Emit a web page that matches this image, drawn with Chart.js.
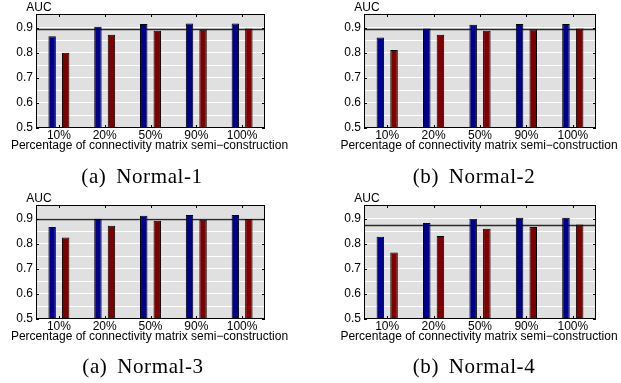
<!DOCTYPE html>
<html>
<head>
<meta charset="utf-8">
<script src="https://cdn.jsdelivr.net/npm/chart.js@4/dist/chart.umd.min.js"></script>
<style>
  body { margin: 0; background: #fff; width: 621px; height: 383px; position: relative; overflow: hidden; }
  .panel { position: absolute; width: 310px; height: 165px; }
  .cap { position: absolute; font-family: "Liberation Serif", "Times New Roman", serif; font-size: 21px;
         line-height: 21px; letter-spacing: 0.6px; word-spacing: 4px; white-space: nowrap;
         transform: translateX(-50%); color: #000; }
</style>
</head>
<body>
<div class="panel" style="left:0;top:0"><canvas id="n1" width="310" height="165"></canvas></div>
<div class="panel" style="left:310px;top:0"><canvas id="n2" width="310" height="165"></canvas></div>
<div class="panel" style="left:0;top:190px"><canvas id="n3" width="310" height="165"></canvas></div>
<div class="panel" style="left:310px;top:190px"><canvas id="n4" width="310" height="165"></canvas></div>
<div class="cap" style="left:142px;top:166px">(a) Normal-1</div>
<div class="cap" style="left:474px;top:166px">(b) Normal-2</div>
<div class="cap" style="left:143px;top:356px">(a) Normal-3</div>
<div class="cap" style="left:474px;top:356px">(b) Normal-4</div>
<script>
// x categories (share of the connectivity matrix that is semi-constructed)
const categories = ['10%', '20%', '50%', '90%', '100%'];
const yLabelTicks = [0.5, 0.6, 0.7, 0.8, 0.9];
const xTitle = 'Percentage of connectivity matrix semi\u2212construction';

// AUC values: blue bars, red bars, and the flat reference line
const blueN1 = [0.866, 0.904, 0.915, 0.917, 0.917];
const redN1  = [0.800, 0.872, 0.888, 0.892, 0.897];
const refN1  = 0.896;

const blueN2 = [0.861, 0.897, 0.912, 0.915, 0.915];
const redN2  = [0.811, 0.872, 0.888, 0.893, 0.897];
const refN2  = 0.897;

const blueN3 = [0.867, 0.900, 0.912, 0.915, 0.915];
const redN3  = [0.825, 0.872, 0.892, 0.896, 0.899];
const refN3  = 0.899;

const blueN4 = [0.828, 0.883, 0.900, 0.904, 0.904];
const redN4  = [0.765, 0.831, 0.860, 0.867, 0.877];
const refN4  = 0.877;

const FONT = "'Liberation Sans', Arial, Helvetica, sans-serif";

// gray plot background, reference line, box, inward ticks, "AUC" and the x title
// (x title drawn here because the scale title gets squeezed to the axis width)
const panelDecor = {
    id: 'panelDecor',
    beforeDraw(chart) {
        const { ctx, chartArea: a } = chart;
        ctx.save();
        ctx.fillStyle = '#e0e0e0';
        ctx.fillRect(a.left, a.top, a.right - a.left, a.bottom - a.top);
        ctx.restore();
    },
    beforeDatasetsDraw(chart, args, opts) {
        const { ctx, chartArea: a, scales } = chart;
        const y = Math.round(scales.y.getPixelForValue(opts.refValue)) + 0.5;
        ctx.save();
        ctx.strokeStyle = '#2a2a2a';
        ctx.lineWidth = 1.3;
        ctx.beginPath();
        ctx.moveTo(a.left, y);
        ctx.lineTo(a.right, y);
        ctx.stroke();
        ctx.restore();
    },
    afterDatasetsDraw(chart) {
        const { ctx, chartArea: a, scales } = chart;
        ctx.save();
        ctx.strokeStyle = '#000';
        ctx.lineWidth = 1;
        ctx.strokeRect(a.left + 0.5, a.top + 0.5, a.right - a.left - 1, a.bottom - a.top - 1);
        ctx.beginPath();
        categories.forEach((c, i) => {
            const x = Math.round(scales.x.getPixelForValue(i)) + 0.5;
            ctx.moveTo(x, a.top); ctx.lineTo(x, a.top + 3);
            ctx.moveTo(x, a.bottom); ctx.lineTo(x, a.bottom - 3);
        });
        yLabelTicks.forEach(v => {
            const y = Math.round(scales.y.getPixelForValue(v)) + 0.5;
            ctx.moveTo(a.left, y); ctx.lineTo(a.left + 3, y);
            ctx.moveTo(a.right, y); ctx.lineTo(a.right - 3, y);
        });
        ctx.stroke();
        ctx.fillStyle = '#000';
        ctx.font = '12px ' + FONT;
        ctx.textAlign = 'center';
        ctx.textBaseline = 'alphabetic';
        ctx.fillText('AUC', a.left + 3, a.top - 3);
        ctx.fillText(xTitle, (a.left + a.right) / 2 - 1, a.bottom + 21);
        ctx.restore();
    }
};

function drawPanel(id, blue, red, refValue, box) {
    const ctx = document.getElementById(id).getContext('2d');
    new Chart(ctx, {
        type: 'bar',
        data: {
            labels: categories,
            datasets: [{
                data: blue,
                backgroundColor: '#00008f',
                borderColor: '#000',
                borderWidth: 1
            }, {
                data: red,
                backgroundColor: '#800000',
                borderColor: '#000',
                borderWidth: 1
            }]
        },
        options: {
            responsive: false,
            animation: false,
            barPercentage: 0.55,
            categoryPercentage: 0.59,
            layout: { padding: { left: 0, right: box.right, top: box.top, bottom: 0 } },
            plugins: {
                legend: { display: false },
                tooltip: { enabled: false },
                panelDecor: { refValue: refValue }
            },
            scales: {
                x: {
                    grid: { display: false, drawTicks: false },
                    border: { display: false },
                    ticks: { color: '#000', font: { family: FONT, size: 12 }, padding: 0, maxRotation: 0 },
                    afterFit: s => { s.height = box.xHeight; }
                },
                y: {
                    min: 0.5,
                    max: 0.955,
                    grid: { color: '#ffffff', lineWidth: 1, drawTicks: false },
                    border: { display: false },
                    ticks: {
                        stepSize: 0.05,
                        autoSkip: false,
                        padding: 3,
                        color: '#000',
                        font: { family: FONT, size: 12 },
                        callback: v => yLabelTicks.some(t => Math.abs(t - v) < 1e-6) ? v.toFixed(1) : ''
                    },
                    afterFit: s => { s.width = box.yWidth; }
                }
            }
        },
        plugins: [panelDecor]
    });
}

drawPanel('n1', blueN1, redN1, refN1, { yWidth: 36, right: 45, top: 14, xHeight: 37 });
drawPanel('n2', blueN2, redN2, refN2, { yWidth: 54, right: 24, top: 14, xHeight: 37 });
drawPanel('n3', blueN3, redN3, refN3, { yWidth: 36, right: 45, top: 15, xHeight: 36 });
drawPanel('n4', blueN4, redN4, refN4, { yWidth: 54, right: 24, top: 15, xHeight: 36 });
</script>
</body>
</html>
